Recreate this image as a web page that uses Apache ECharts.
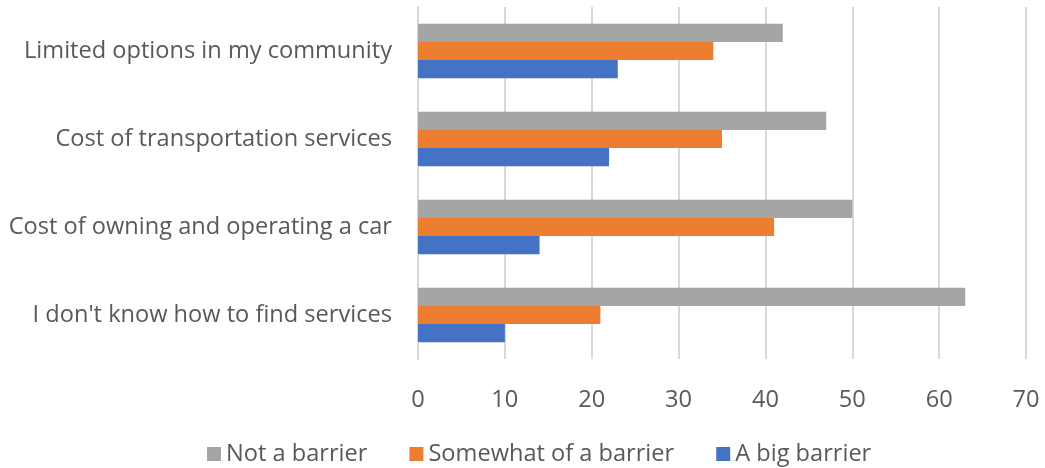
<!DOCTYPE html>
<html>
<head>
<meta charset="utf-8">
<script src="https://cdn.jsdelivr.net/npm/echarts@6/dist/echarts.min.js"></script>
<style>
  html, body { margin: 0; padding: 0; background: #ffffff; }
  #chart { width: 1045px; height: 468px; }
</style>
</head>
<body>
<div id="chart"></div>
<script>
// Categories listed bottom to top along the vertical axis
const categories = [
  "I don't know how to find services",
  "Cost of owning and operating a car",
  "Cost of transportation services",
  "Limited options in my community"
];
const seriesNames = ["Not a barrier", "Somewhat of a barrier", "A big barrier"];
const notABarrier = [63, 50, 47, 42];
const somewhatBarrier = [21, 41, 35, 34];
const bigBarrier = [10, 14, 22, 23];
const xTicks = [0, 10, 20, 30, 40, 50, 60, 70];

const colors = ["#A5A5A5", "#ED7D31", "#4472C4"];
const values = [notABarrier, somewhatBarrier, bigBarrier];
const textColor = "#595959";
const fontFamily = "'Open Sans', 'Noto Sans', sans-serif";
const fontSize = 23.6;

const chart = echarts.init(document.getElementById('chart'), null, { renderer: 'canvas' });

const series = seriesNames.map((name, i) => ({
  name: name,
  type: 'bar',
  data: values[i],
  itemStyle: { color: colors[i] },
  barGap: '0%',
  barCategoryGap: '38%',
  animation: false
}));

chart.setOption({
  animation: false,
  color: colors,
  grid: { left: 418, right: 19, top: 7, bottom: 109, containLabel: false },
  legend: {
    data: seriesNames,
    bottom: -3,
    left: 202,
    icon: 'rect',
    itemWidth: 14,
    itemHeight: 14,
    itemGap: 42,
    textStyle: { color: textColor, fontSize: fontSize, fontFamily: fontFamily }
  },
  xAxis: {
    type: 'value',
    min: xTicks[0],
    max: xTicks[xTicks.length - 1],
    interval: 10,
    axisLine: { show: false },
    axisTick: { show: false },
    splitLine: { show: true, lineStyle: { color: '#D9D9D9', width: 2 } },
    axisLabel: { color: textColor, fontSize: fontSize, fontFamily: fontFamily, margin: 29 }
  },
  yAxis: {
    type: 'category',
    data: categories,
    axisLine: { show: true, lineStyle: { color: '#D9D9D9', width: 2 } },
    axisTick: { show: false },
    axisLabel: { color: textColor, fontSize: fontSize, fontFamily: fontFamily, margin: 26 }
  },
  series: series
});
</script>
</body>
</html>
